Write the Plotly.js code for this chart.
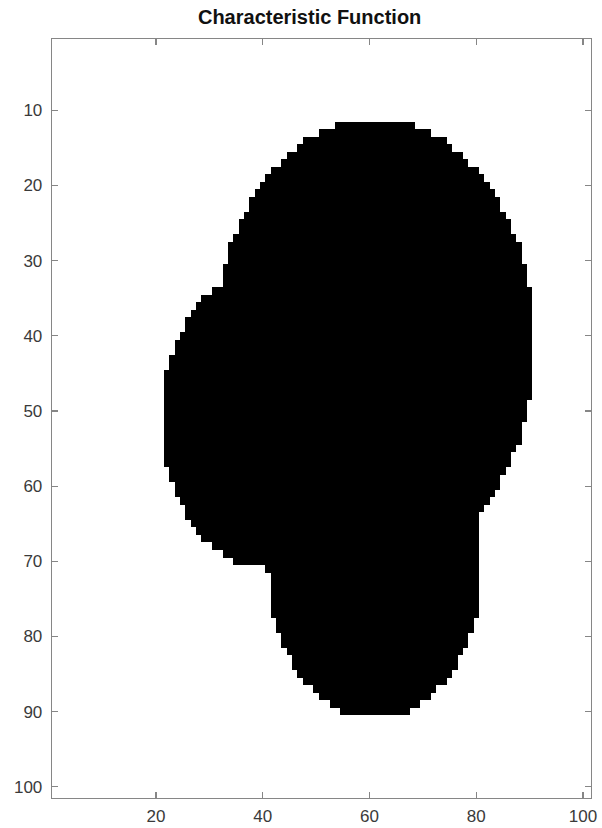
<!DOCTYPE html>
<html>
<head>
<meta charset="utf-8">
<script src="https://cdn.plot.ly/plotly-3.0.1.min.js"></script>
<style>html,body{margin:0;padding:0;background:#fff;}#chart{width:602px;height:828px;}</style>
</head>
<body>
<div id="chart"></div>
<script>
// Image size (rows x columns)
const nRows = 101;
const nCols = 101;
// Rows containing the shape (1-based, top to bottom)
const rows = [12,13,14,15,16,17,18,19,20,21,22,23,24,25,26,27,28,29,30,31,32,33,34,35,36,37,38,39,40,41,42,43,44,45,46,47,48,49,50,51,52,53,54,55,56,57,58,59,60,61,62,63,64,65,66,67,68,69,70,71,72,73,74,75,76,77,78,79,80,81,82,83,84,85,86,87,88,89,90];
// First filled column in each row
const leftCol = [54,51,48,47,45,44,42,41,40,39,38,38,37,36,36,35,34,34,34,33,33,33,31,29,28,27,26,26,25,24,24,23,23,22,22,22,22,22,22,22,22,22,22,22,22,22,23,23,24,24,25,26,26,27,28,29,31,33,35,41,42,42,42,42,42,42,43,43,44,44,45,46,46,47,48,50,51,53,55];
// Last filled column in each row
const rightCol = [68,71,74,75,77,78,80,81,82,83,84,84,85,86,86,87,88,88,88,89,89,89,90,90,90,90,90,90,90,90,90,90,90,90,90,90,90,89,89,89,88,88,88,87,86,86,85,84,84,83,82,81,80,80,80,80,80,80,80,80,80,80,80,80,80,80,79,79,78,78,77,76,76,75,74,72,71,69,67];
// Tick values
const xTicks = [20,40,60,80,100];
const yTicks = [10,20,30,40,50,60,70,80,90,100];

const xs = Array.from({length:nCols},(_,i)=>i+1);
const ys = Array.from({length:nRows},(_,i)=>i+1);
const z = ys.map(r => xs.map(c => {
  const k = rows.indexOf(r);
  if (k < 0) return 0;
  return (c >= leftCol[k] && c <= rightCol[k]) ? 1 : 0;
}));

const trace = {
  type:'heatmap', x:xs, y:ys, z:z, zmin:0, zmax:1,
  colorscale:[[0,'#ffffff'],[1,'#000000']],
  showscale:false, hoverinfo:'skip'
};

const axisCommon = {
  showgrid:false, zeroline:false, showline:true, linecolor:'#868686', linewidth:1.3,
  mirror:'ticks', ticks:'inside', ticklen:6, tickwidth:1.2, tickcolor:'#868686',
  tickfont:{family:'Liberation Sans, Arial, sans-serif', size:17, color:'#3a3a3a'}
};

const layout = {
  width:602, height:828,
  margin:{l:52, r:11, t:39, b:30, pad:0},
  paper_bgcolor:'#ffffff', plot_bgcolor:'#ffffff',
  title:{text:'<b>Characteristic Function</b>', x:0.478, xref:'paper', xanchor:'center', y:0.979, yanchor:'middle',
         font:{family:'Liberation Sans, Arial, sans-serif', size:20, color:'#111111'}},
  xaxis:Object.assign({}, axisCommon, {range:[0.5,101.5], tickvals:xTicks, ticktext:xTicks.map(String), ticklabelstandoff:2}),
  yaxis:Object.assign({}, axisCommon, {range:[101.5,0.5], tickvals:yTicks, ticktext:yTicks.map(String), ticklabelstandoff:5}),
  showlegend:false
};

Plotly.newPlot('chart',[trace],layout,{displayModeBar:false, staticPlot:true});
</script>
</body>
</html>
